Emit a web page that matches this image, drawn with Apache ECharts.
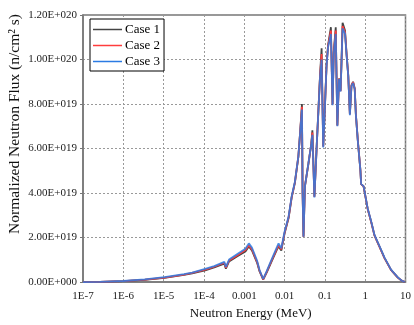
<!DOCTYPE html>
<html>
<head>
<meta charset="utf-8">
<script src="https://cdn.jsdelivr.net/npm/echarts@6/dist/echarts.min.js"></script>
<style>
  html, body { margin: 0; padding: 0; background: #fff; }
  #chart { width: 414px; height: 325px; }
</style>
</head>
<body>
<div id="chart"></div>
<script>
// energies in MeV, flux in units of 1E+019 n/cm2 s
const energy = [
  1.0e-7, 2.6e-7, 1.0e-6, 3.4e-6, 1.05e-5, 3.2e-5, 5.1e-5, 1.07e-4, 1.8e-4, 3.2e-4,
  3.5e-4, 4.2e-4, 6.6e-4, 1.07e-3, 1.3e-3, 1.55e-3, 2.1e-3, 2.4e-3, 2.95e-3, 3.6e-3,
  4.9e-3, 6.5e-3, 7.1e-3, 8.3e-3, 1.0e-2, 1.26e-2, 1.5e-2, 1.8e-2, 2.2e-2, 2.45e-2,
  2.7e-2, 2.8e-2, 2.95e-2, 3.2e-2, 3.9e-2, 4.6e-2, 4.9e-2, 5.5e-2, 6.3e-2, 6.9e-2,
  7.6e-2, 8.3e-2, 9.1e-2, 0.100, 0.110, 0.120, 0.141, 0.155, 0.166, 0.186,
  0.204, 0.224, 0.245, 0.257, 0.275, 0.316, 0.347, 0.380, 0.417, 0.457,
  0.501, 0.550, 0.589, 0.661, 0.759, 0.794, 0.912, 1.15, 1.41, 1.70,
  2.19, 3.02, 4.37, 6.46, 8.13, 9.55
];
const case1 = [
  0.00, 0.01, 0.04, 0.10, 0.19, 0.32, 0.39, 0.53, 0.66, 0.83,
  0.60, 0.93, 1.15, 1.38, 1.60, 1.42, 0.85, 0.48, 0.11, 0.43,
  0.98, 1.47, 1.60, 1.42, 2.18, 2.88, 3.80, 4.45, 5.63, 6.80,
  8.00, 4.00, 2.04, 4.30, 5.30, 6.20, 6.82, 3.85, 6.20, 7.70,
  9.32, 10.50, 6.10, 7.85, 9.75, 10.65, 11.45, 8.00, 10.35, 11.45,
  7.05, 9.15, 8.60, 9.75, 11.65, 11.30, 10.20, 9.30, 7.55, 8.85,
  9.00, 8.70, 7.50, 6.30, 5.05, 4.40, 4.30, 3.30, 2.70, 2.10,
  1.65, 1.08, 0.55, 0.20, 0.06, 0.01
];
const case2 = [
  0.00, 0.01, 0.04, 0.11, 0.20, 0.34, 0.41, 0.56, 0.69, 0.87,
  0.64, 0.97, 1.20, 1.44, 1.66, 1.48, 0.89, 0.51, 0.12, 0.46,
  1.02, 1.52, 1.66, 1.47, 2.22, 2.91, 3.82, 4.47, 5.65, 6.80,
  7.88, 4.00, 2.04, 4.31, 5.32, 6.21, 6.72, 3.83, 6.20, 7.68,
  9.28, 10.25, 6.08, 7.83, 9.72, 10.60, 11.30, 7.98, 10.30, 11.30,
  7.03, 9.14, 8.58, 9.72, 11.50, 11.22, 10.18, 9.28, 7.53, 8.83,
  8.98, 8.68, 7.50, 6.30, 5.05, 4.40, 4.30, 3.30, 2.70, 2.10,
  1.65, 1.08, 0.55, 0.20, 0.06, 0.01
];
const case3 = [
  0.00, 0.01, 0.05, 0.12, 0.22, 0.36, 0.43, 0.59, 0.72, 0.91,
  0.68, 1.01, 1.25, 1.50, 1.74, 1.55, 0.94, 0.54, 0.14, 0.49,
  1.07, 1.58, 1.74, 1.52, 2.26, 2.95, 3.85, 4.50, 5.65, 6.78,
  7.75, 4.00, 2.04, 4.31, 5.33, 6.21, 6.62, 3.80, 6.20, 7.66,
  9.25, 10.00, 6.05, 7.80, 9.70, 10.55, 11.15, 7.95, 10.25, 11.15,
  7.00, 9.12, 8.56, 9.70, 11.40, 11.15, 10.15, 9.25, 7.50, 8.80,
  8.95, 8.65, 7.48, 6.28, 5.04, 4.40, 4.31, 3.32, 2.72, 2.12,
  1.67, 1.10, 0.56, 0.21, 0.06, 0.01
];
const seriesNames = ["Case 1", "Case 2", "Case 3"];
const xTickLabels = ["1E-7", "1E-6", "1E-5", "1E-4", "0.001", "0.01", "0.1", "1", "10"];

const font = "'Liberation Serif', 'DejaVu Serif', serif";

function sci(v) {
  if (v === 0) return "0.00E+000";
  const val = v * 1e19;
  const e = Math.floor(Math.log10(val) + 1e-9);
  const m = val / Math.pow(10, e);
  return m.toFixed(2) + "E+" + String(e).padStart(3, "0");
}

const pairs = (ys) => energy.map((e, i) => [e, ys[i]]);

const chart = echarts.init(document.getElementById("chart"), null, { renderer: "canvas" });
chart.setOption({
  animation: false,
  backgroundColor: "#fff",
  textStyle: { fontFamily: font },
  grid: { left: 83, right: 6, top: 15, bottom: 37, show: true, borderColor: "#777", borderWidth: 1.5 },
  legend: {
    orient: "vertical",
    left: 90,
    top: 19,
    padding: [3, 4, 2, 3],
    itemGap: 1,
    itemWidth: 29,
    itemHeight: 1.5,
    icon: "rect",
    backgroundColor: "#fff",
    borderColor: "#000",
    borderWidth: 1,
    textStyle: { fontFamily: font, fontSize: 13, color: "#000", lineHeight: 15, padding: [0, 0, 0, -2] },
    data: seriesNames,
  },
  xAxis: {
    type: "log",
    logBase: 10,
    min: 1e-7,
    max: 10,
    name: "Neutron Energy (MeV)",
    nameLocation: "middle",
    nameGap: 24,
    nameTextStyle: { fontFamily: font, fontSize: 13, color: "#111", padding: [0, 0, 0, 13] },
    axisLine: { lineStyle: { color: "#777", width: 1.5 } },
    axisTick: { show: false },
    minorTick: { show: false },
    axisLabel: {
      fontFamily: font, fontSize: 11, color: "#222", margin: 9,
      formatter: (v) => xTickLabels[Math.round(Math.log10(v)) + 7] ?? "",
    },
    splitLine: { show: true, lineStyle: { color: "#999", type: [2, 2], width: 1 } },
  },
  yAxis: {
    type: "value",
    min: 0,
    max: 12,
    interval: 2,
    axisLine: { show: true, lineStyle: { color: "#777", width: 1.5 } },
    axisTick: { show: true, inside: false, length: 3, lineStyle: { color: "#777" } },
    axisLabel: { fontFamily: font, fontSize: 11, color: "#222", margin: 6, formatter: sci },
    splitLine: { show: true, lineStyle: { color: "#999", type: [2, 2], width: 1 } },
  },
  graphic: [
    {
      type: "text",
      x: 15,
      y: 124,
      rotation: Math.PI / 2,
      style: {
        text: "Normalized Neutron Flux (n/cm² s)",
        fontFamily: font,
        fontSize: 15.5,
        fill: "#111",
        align: "center",
        verticalAlign: "middle",
      },
    },
  ],
  series: [
    { name: seriesNames[0], type: "line", data: pairs(case1), symbol: "none", color: "#444",
      lineStyle: { color: "#444", width: 1.8 } },
    { name: seriesNames[1], type: "line", data: pairs(case2), symbol: "none", color: "#ff3d3d",
      lineStyle: { color: "#ff3d3d", width: 1.8 } },
    { name: seriesNames[2], type: "line", data: pairs(case3), symbol: "none", color: "#2b7be3",
      lineStyle: { color: "#2b7be3", width: 1.8, opacity: 0.85 } },
  ],
});
</script>
</body>
</html>
